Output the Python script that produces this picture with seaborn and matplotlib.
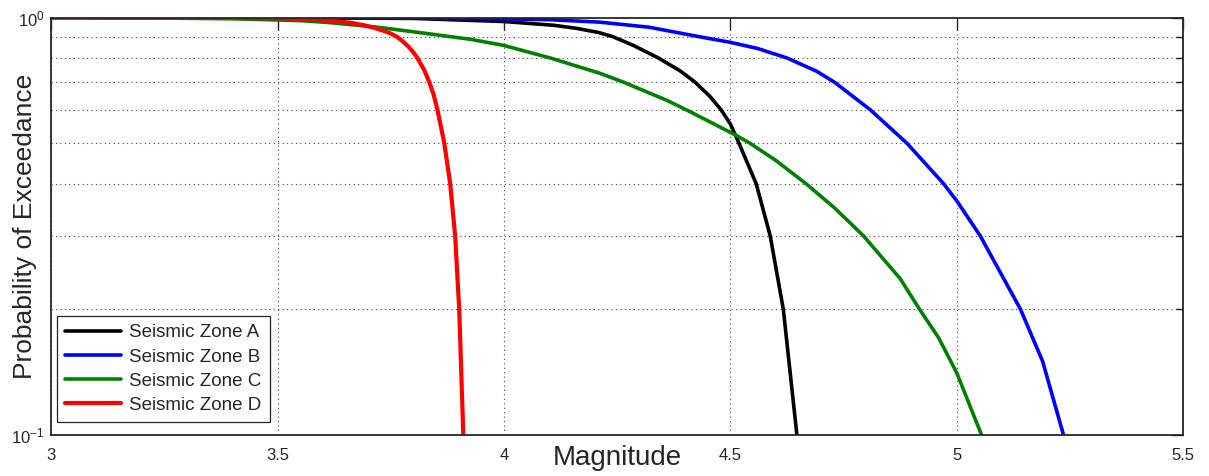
import matplotlib
matplotlib.use("Agg")
import matplotlib.pyplot as plt
import seaborn as sns
import pandas as pd
from matplotlib.ticker import FixedLocator, NullFormatter

# ---- data ----
zone_names = ["Seismic Zone A", "Seismic Zone B", "Seismic Zone C", "Seismic Zone D"]
zone_colors = ["#000000", "#0000ff", "#008000", "#ff0000"]

mag_a = [3.0, 3.5, 3.8, 4.0, 4.11, 4.16, 4.21, 4.24, 4.286, 4.341, 4.389, 4.422, 4.455, 4.48, 4.50, 4.519, 4.557, 4.588, 4.617, 4.647]
prob_a = [1.0, 0.999, 0.995, 0.978, 0.958, 0.942, 0.92, 0.9, 0.857, 0.8, 0.745, 0.7, 0.647, 0.6, 0.556, 0.5, 0.4, 0.3, 0.2, 0.1]

mag_b = [3.0, 3.5, 3.8, 4.0, 4.1, 4.21, 4.32, 4.43, 4.5, 4.56, 4.625, 4.69, 4.73, 4.81, 4.89, 4.971, 5.0, 5.052, 5.141, 5.19, 5.236]
prob_b = [1.0, 0.999, 0.997, 0.992, 0.988, 0.975, 0.948, 0.9, 0.872, 0.843, 0.8, 0.744, 0.7, 0.6, 0.5, 0.4, 0.364, 0.3, 0.2, 0.15, 0.1]

mag_c = [3.0, 3.2, 3.4, 3.55, 3.616, 3.72, 3.814, 3.925, 4.0, 4.102, 4.212, 4.264, 4.36, 4.404, 4.51, 4.543, 4.6, 4.667, 4.73, 4.794, 4.875, 4.918, 4.96, 5.0, 5.055]
prob_c = [1.0, 0.998, 0.993, 0.983, 0.972, 0.948, 0.92, 0.887, 0.857, 0.8, 0.735, 0.7, 0.633, 0.6, 0.524, 0.5, 0.455, 0.4, 0.35, 0.3, 0.237, 0.2, 0.171, 0.141, 0.1]

mag_d = [3.0, 3.3, 3.5, 3.55, 3.616, 3.66, 3.689, 3.711, 3.733, 3.748, 3.763, 3.776, 3.789, 3.799, 3.8085, 3.823, 3.835, 3.845, 3.853, 3.868, 3.881, 3.892, 3.901, 3.910]
prob_d = [1.0, 0.999, 0.996, 0.992, 0.982, 0.972, 0.959, 0.946, 0.930, 0.917, 0.9, 0.877, 0.851, 0.827, 0.8, 0.751, 0.7, 0.65, 0.6, 0.5, 0.4, 0.3, 0.2, 0.1]

x_ticks = [3.0, 3.5, 4.0, 4.5, 5.0, 5.5]
x_tick_labels = ["3", "3.5", "4", "4.5", "5", "5.5"]
y_ticks = [0.1, 1.0]
y_tick_labels = [r"$\mathdefault{10^{-1}}$", r"$\mathdefault{10^{0}}$"]
y_minor = [0.2, 0.3, 0.4, 0.5, 0.6, 0.7, 0.8, 0.9]

# ---- style ----
sns.set_style("white")
plt.rcParams["font.family"] = ["Liberation Sans", "DejaVu Sans"]
plt.rcParams["mathtext.fontset"] = "custom"
plt.rcParams["mathtext.rm"] = "Liberation Sans"
plt.rcParams["mathtext.it"] = "Liberation Sans:italic"
plt.rcParams["mathtext.bf"] = "Liberation Sans:bold"

fig = plt.figure(figsize=(12.09, 4.76), dpi=100)
ax = fig.add_axes([51.4 / 1209, 41 / 476, (1183 - 51.4) / 1209, (435 - 17.5) / 476])

series = [(mag_a, prob_a), (mag_b, prob_b), (mag_c, prob_c), (mag_d, prob_d)]
for (m, p), name, col in zip(series, zone_names, zone_colors):
    df = pd.DataFrame({"Magnitude": m, "P": p})
    lw = 3.0 if col == "#ff0000" else 2.6
    sns.lineplot(data=df, x="Magnitude", y="P", ax=ax, color=col, lw=lw,
                 label=name, sort=False, estimator=None)

ax.set_yscale("log")
ax.set_xlim(3.0, 5.5)
ax.set_ylim(0.1, 1.0)
ax.set_xticks(x_ticks)
ax.set_xticklabels(x_tick_labels)
ax.set_yticks(y_ticks)
ax.set_yticklabels(y_tick_labels)
ax.yaxis.set_minor_locator(FixedLocator(y_minor))
ax.yaxis.set_minor_formatter(NullFormatter())
ax.xaxis.set_minor_locator(FixedLocator([]))

ax.tick_params(axis="both", which="major", direction="in", top=True, right=True,
               length=8.5, width=1.0, color="#262626", labelsize=12, labelcolor="#262626")
ax.tick_params(axis="both", which="minor", direction="in", top=True, right=True,
               length=5, width=1.0, color="#262626")
ax.tick_params(axis="x", pad=9)
ax.tick_params(axis="y", pad=5)

ax.grid(True, which="minor", axis="y", ls=(0, (1, 3)), color="#404040", lw=0.8)
ax.grid(True, which="major", axis="x", ls=(0, (1, 3)), color="#404040", lw=0.8)
ax.grid(False, which="major", axis="y")

for s in ax.spines.values():
    s.set_color("#262626")
    s.set_linewidth(1.3)

ax.set_xlabel("Magnitude", fontsize=20, color="#262626")
ax.set_ylabel("Probability of Exceedance", fontsize=19, color="#262626")
ax.xaxis.set_label_coords(0.5, -0.024)
ax.xaxis.label.set_va("top")
ax.yaxis.set_label_coords(-0.013, 0.5)

leg = ax.legend(loc="lower left", bbox_to_anchor=(0.0047, 0.03), fontsize=13.5,
                frameon=True, fancybox=False, edgecolor="#262626", framealpha=1,
                handlelength=3.0, labelspacing=0.38, borderpad=0.45, handletextpad=0.4,
                borderaxespad=0.0)
leg.get_frame().set_linewidth(0.9)

fig.savefig("out.png", dpi=100)
